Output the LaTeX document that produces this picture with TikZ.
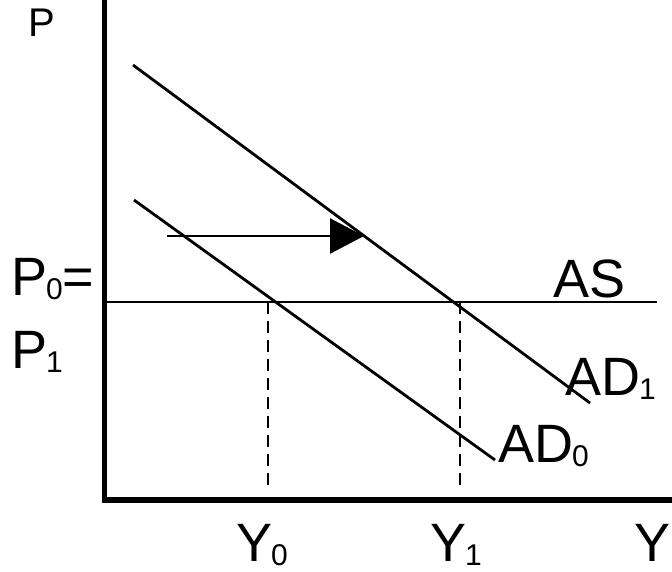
\documentclass[tikz,border=0pt]{standalone}
\usepackage{fontspec}
\setmainfont{Liberation Sans}
\usetikzlibrary{arrows.meta}
\tikzset{
  axisline/.style={line width=5.5pt, line cap=butt},
  curve/.style={line width=2.8pt},
  guide/.style={line width=2.2pt, dash pattern=on 12pt off 7pt},
  lbl/.style={inner sep=0pt, outer sep=0pt, anchor=base west, font=\fontsize{54}{60}\selectfont},
  smalllbl/.style={inner sep=0pt, outer sep=0pt, anchor=base west, font=\fontsize{40}{44}\selectfont},
}
\newcommand{\subd}[1]{\kern-1pt\raisebox{-4pt}{\fontsize{30}{32}\selectfont #1}}
\begin{document}
\begin{tikzpicture}[x=1pt,y=-1pt]
\useasboundingbox (0,0) rectangle (672,571);
% axes
\coordinate (O) at (104.5,500);
\coordinate (ytop) at (104.5,0);
\coordinate (xend) at (672,500);
\draw[axisline] (ytop) -- (O) -- (xend);
% AS
\coordinate (asL) at (104,302);
\coordinate (asR) at (657,302);
\draw[line width=2.5pt] (asL) -- (asR);
% AD curves
\coordinate (ad1a) at (133,65);
\coordinate (ad1b) at (590,403);
\draw[curve] (ad1a) -- (ad1b);
\coordinate (ad0a) at (134,200);
\coordinate (ad0b) at (495,460);
\draw[curve] (ad0a) -- (ad0b);
% shift arrow
\coordinate (arA) at (167,236);
\coordinate (arB) at (364,236);
\draw[line width=2.5pt, -{Triangle[length=34pt,width=35pt]}] (arA) -- (arB);
% dashed guides
\coordinate (d0t) at (268,302);
\coordinate (d0b) at (268,492);
\coordinate (d1t) at (460,302);
\coordinate (d1b) at (460,492);
\draw[guide] (d0t) -- (d0b);
\draw[guide] (d1t) -- (d1b);
% labels
\node[smalllbl] (P) at (28,36) {P};
\node[lbl] (P0) at (11,295) {P\subd{0}=};
\node[lbl] (P1) at (11,368) {P\subd{1}};
\node[lbl] (AS) at (553,297) {AS};
\node[lbl] (AD1) at (565,395) {AD\subd{1}};
\node[lbl] (AD0) at (498,462) {AD\subd{0}};
\node[lbl] (Y0) at (236,561) {Y\subd{0}};
\node[lbl] (Y1) at (430,561) {Y\subd{1}};
\node[lbl] (Y) at (634,561) {Y};
\end{tikzpicture}
\end{document}
